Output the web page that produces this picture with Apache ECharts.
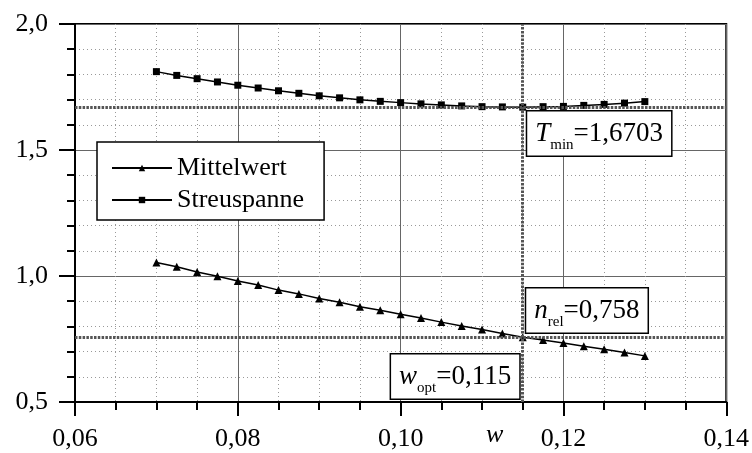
<!DOCTYPE html>
<html>
<head>
<meta charset="utf-8">
<script src="https://cdn.jsdelivr.net/npm/echarts@6/dist/echarts.min.js"></script>
<style>
  html, body { margin: 0; padding: 0; background: #fff; }
  #chart { width: 752px; height: 453px; }
</style>
</head>
<body>
<div id="chart"></div>
<script>
// w values (x)
var wValues = [0.07, 0.0725, 0.075, 0.0775, 0.08, 0.0825, 0.085, 0.0875, 0.09, 0.0925, 0.095, 0.0975,
  0.10, 0.1025, 0.105, 0.1075, 0.11, 0.1125, 0.115, 0.1175, 0.12, 0.1225, 0.125, 0.1275, 0.13];
var mittelwert = [1.054, 1.037, 1.016, 0.999, 0.980, 0.964, 0.944, 0.929, 0.911, 0.896, 0.878, 0.864,
  0.848, 0.833, 0.817, 0.802, 0.788, 0.772, 0.757, 0.746, 0.734, 0.721, 0.709, 0.696, 0.683];
var streuspanne = [1.811, 1.796, 1.783, 1.770, 1.757, 1.746, 1.735, 1.725, 1.715, 1.707, 1.699, 1.693,
  1.688, 1.683, 1.679, 1.675, 1.672, 1.671, 1.670, 1.672, 1.673, 1.677, 1.681, 1.686, 1.692];
var seriesNames = ['Mittelwert', 'Streuspanne'];
var T_MIN = 1.6703;
var N_REL = 0.758;
var W_OPT = 0.115;
var X_RANGE = [0.06, 0.14];
var Y_RANGE = [0.5, 2.0];

function comma(v, d) { return v.toFixed(d).replace('.', ','); }
function pairs(ys) { return wValues.map(function (x, i) { return [x, ys[i]]; }); }

var FONT = 'Liberation Serif';
var boxLabel = {
  show: true,
  backgroundColor: '#fff',
  borderColor: '#000',
  borderWidth: 1.5,
  padding: [3, 8, 3, 8],
  fontFamily: FONT,
  rich: {
    i: { fontFamily: FONT, fontStyle: 'italic', fontSize: 27, color: '#000', lineHeight: 38, verticalAlign: 'middle' },
    s: { fontFamily: FONT, fontSize: 15, color: '#000', lineHeight: 38, verticalAlign: 'bottom' },
    n: { fontFamily: FONT, fontSize: 27, color: '#000', lineHeight: 38, verticalAlign: 'middle' }
  }
};
function box(extra) { return Object.assign({}, boxLabel, extra); }

var dom = document.getElementById('chart');
var myChart = echarts.init(dom, null, { renderer: 'canvas' });
var option = {
  backgroundColor: '#fff',
  animation: false,
  grid: { left: 75, top: 24, right: 23, bottom: 51, show: true, borderColor: '#000', borderWidth: 2, backgroundColor: 'transparent' },
  legend: {
    data: seriesNames,
    orient: 'vertical',
    left: 97, top: 142,
    backgroundColor: '#fff',
    borderColor: '#000', borderWidth: 1.5,
    padding: [13, 20, 7, 14],
    itemWidth: 60, itemHeight: 8, itemGap: 6,
    textStyle: { fontFamily: FONT, fontSize: 26, color: '#000' }
  },
  xAxis: {
    type: 'value', min: X_RANGE[0], max: X_RANGE[1], interval: 0.02,
    axisLine: { onZero: false, lineStyle: { color: '#000', width: 2 } },
    axisTick: { length: 14, lineStyle: { color: '#000', width: 2 } },
    minorTick: { show: true, splitNumber: 4, length: 8, lineStyle: { color: '#000', width: 2 } },
    splitLine: { show: true, lineStyle: { color: '#666', width: 1 } },
    minorSplitLine: { show: true, lineStyle: { color: '#999', width: 1, type: [1, 3] } },
    axisLabel: { margin: 24, fontFamily: FONT, fontSize: 26, color: '#000', formatter: function (v) { return comma(v, 2); } }
  },
  yAxis: {
    type: 'value', min: Y_RANGE[0], max: Y_RANGE[1], interval: 0.5,
    axisLine: { onZero: false, lineStyle: { color: '#000', width: 2 } },
    axisTick: { length: 16, lineStyle: { color: '#000', width: 2 } },
    minorTick: { show: true, splitNumber: 5, length: 8, lineStyle: { color: '#000', width: 2 } },
    splitLine: { show: true, lineStyle: { color: '#666', width: 1 } },
    minorSplitLine: { show: true, lineStyle: { color: '#999', width: 1, type: [1, 3] } },
    axisLabel: { margin: 27, fontFamily: FONT, fontSize: 26, color: '#000', formatter: function (v) { return comma(v, 1); } }
  },
  graphic: [{
    type: 'text', left: 486, top: 422,
    style: { text: 'w', font: 'italic 26px "Liberation Serif"', fill: '#000' }
  }],
  series: [{
    name: seriesNames[0],
    type: 'line',
    data: pairs(mittelwert),
    symbol: 'triangle', symbolSize: 8,
    showAllSymbol: true,
    lineStyle: { color: '#000', width: 1.5 },
    itemStyle: { color: '#000' },
    z: 3,
    markLine: {
      silent: true, symbol: 'none', animation: false,
      label: { show: false },
      lineStyle: { color: '#555', width: 3, type: [2.5, 1.3] },
      data: [
        [{ coord: [X_RANGE[0], T_MIN] }, { coord: [X_RANGE[1], T_MIN] }],
        [{ coord: [X_RANGE[0], N_REL] }, { coord: [X_RANGE[1], N_REL] }],
        [{ coord: [W_OPT, Y_RANGE[0]] }, { coord: [W_OPT, Y_RANGE[1]] }]
      ]
    },
    markPoint: {
      symbol: 'rect', symbolSize: 1, silent: true,
      itemStyle: { color: 'rgba(0,0,0,0)' },
      data: [
        { coord: [W_OPT, T_MIN], label: box({ formatter: '{i|T}{s|min}{n|=' + comma(T_MIN, 4) + '}', position: [5, 5], align: 'left', verticalAlign: 'top' }) },
        { coord: [W_OPT, N_REL], label: box({ formatter: '{i|n}{s|rel}{n|=' + comma(N_REL, 3) + '}', position: [4, -4], align: 'left', verticalAlign: 'bottom' }) },
        { coord: [W_OPT, Y_RANGE[0]], label: box({ formatter: '{i|w}{s|opt}{n|=' + comma(W_OPT, 3) + '}', position: [-3, -3], align: 'right', verticalAlign: 'bottom' }) }
      ]
    }
  }, {
    name: seriesNames[1],
    type: 'line',
    data: pairs(streuspanne),
    symbol: 'rect', symbolSize: 7,
    showAllSymbol: true,
    lineStyle: { color: '#000', width: 1.5 },
    itemStyle: { color: '#000' },
    z: 3
  }]
};
if (option && typeof option === 'object') {
  myChart.setOption(option, true);
}
</script>
</body>
</html>
